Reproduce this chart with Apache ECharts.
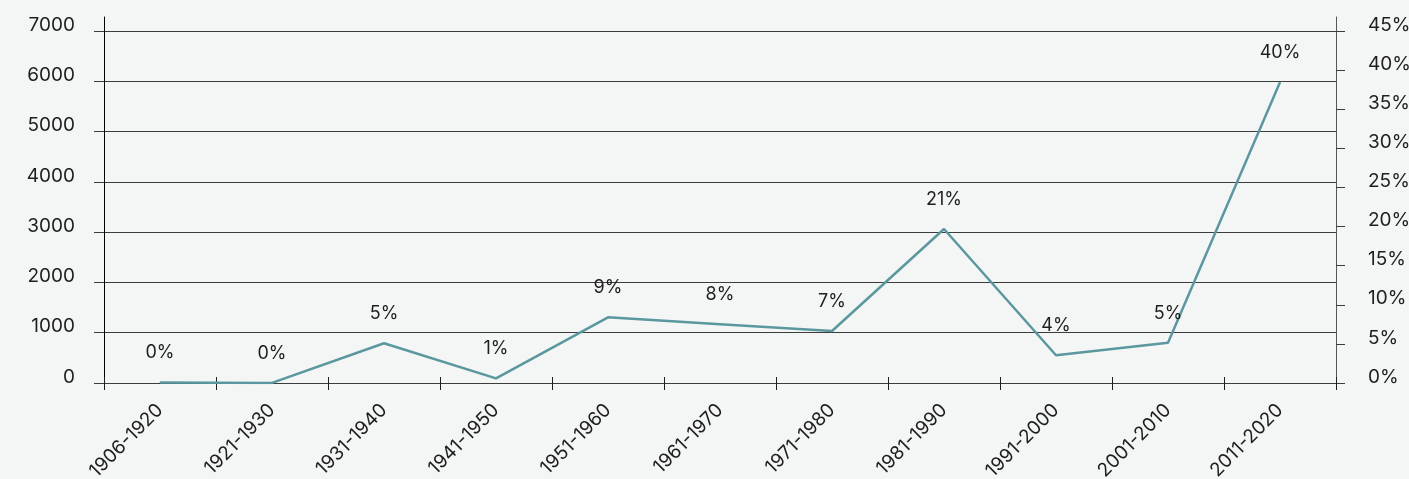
<!DOCTYPE html>
<html lang="en" style="height: 100%">
<head>
  <meta charset="utf-8">
</head>
<body style="height: 100%; margin: 0; background: #f4f6f5">
  <div id="container" style="width: 1409px; height: 479px"></div>

  <script type="text/javascript" src="https://fastly.jsdelivr.net/npm/echarts@6.0.0/dist/echarts.min.js"></script>
  <script type="text/javascript">
    // decades
    var decades = ['1906-1920', '1921-1930', '1931-1940', '1941-1950', '1951-1960', '1961-1970',
      '1971-1980', '1981-1990', '1991-2000', '2001-2010', '2011-2020'];
    // count per decade (left axis)
    var counts = [10, 2, 790, 93, 1306, 1169, 1034, 3062, 551, 800, 5980];
    // share of total, shown as point labels
    var shares = [0, 0, 5, 1, 9, 8, 7, 21, 4, 5, 40];

    var textColor = '#1e1e1e';
    var gridColor = '#3c3c3c';
    var lineColor = '#5b979f';
    var font = 'Inter, "Noto Sans", sans-serif';

    var dom = document.getElementById('container');
    var myChart = echarts.init(dom, null, { renderer: 'canvas' });

    var option = {
      backgroundColor: '#f4f6f5',
      textStyle: { fontFamily: font },
      grid: [
        { left: 104, right: 73, top: 31, bottom: 96, outerBoundsMode: 'none' },
        // only used to draw the taller vertical axis lines
        { left: 104, right: 73, top: 17, bottom: 96, outerBoundsMode: 'none' }
      ],
      xAxis: [
        {
          type: 'category',
          data: decades,
          gridIndex: 0,
          axisLine: { show: true, lineStyle: { color: gridColor, width: 1 } },
          axisTick: { show: true, length: 7, lineStyle: { color: textColor } },
          axisLabel: {
            rotate: 45,
            margin: 24,
            fontSize: 19,
            color: textColor,
            fontFamily: font
          }
        },
        {
          type: 'category',
          data: decades,
          gridIndex: 0,
          position: 'bottom',
          axisLine: { show: false },
          axisTick: { show: true, inside: true, length: 6, lineStyle: { color: textColor } },
          axisLabel: { show: false }
        },
        { type: 'category', data: decades, gridIndex: 1, show: false }
      ],
      yAxis: [
        {
          type: 'value',
          gridIndex: 0,
          min: 0,
          max: 7000,
          interval: 1000,
          axisLine: { show: false },
          axisTick: { show: true, length: 10, lineStyle: { color: gridColor } },
          splitLine: { show: true, lineStyle: { color: gridColor, width: 1 } },
          axisLabel: {
            margin: 29,
            fontSize: 19,
            color: textColor,
            fontFamily: font,
            verticalAlign: 'bottom',
            lineHeight: 12,
            formatter: function (v) { return String(v); }
          }
        },
        {
          type: 'value',
          gridIndex: 0,
          position: 'right',
          min: 0,
          max: 45,
          interval: 5,
          axisLine: { show: false },
          axisTick: { show: true, length: 9, lineStyle: { color: gridColor } },
          splitLine: { show: false },
          axisLabel: {
            margin: 32,
            fontSize: 19,
            color: textColor,
            fontFamily: font,
            verticalAlign: 'bottom',
            lineHeight: 12,
            formatter: '{value}%'
          }
        },
        {
          type: 'value',
          gridIndex: 1,
          position: 'left',
          axisLine: { show: true, lineStyle: { color: '#000', width: 1 } },
          axisTick: { show: false },
          axisLabel: { show: false },
          splitLine: { show: false }
        },
        {
          type: 'value',
          gridIndex: 1,
          position: 'right',
          axisLine: { show: true, lineStyle: { color: '#555', width: 1 } },
          axisTick: { show: false },
          axisLabel: { show: false },
          splitLine: { show: false }
        }
      ],
      series: [
        {
          type: 'line',
          xAxisIndex: 0,
          yAxisIndex: 0,
          data: counts,
          symbol: 'circle',
          symbolSize: 1,
          itemStyle: { color: lineColor },
          lineStyle: { color: lineColor, width: 2.5 },
          label: {
            show: true,
            position: 'top',
            distance: 20,
            fontSize: 18,
            color: textColor,
            fontFamily: font,
            formatter: function (p) {
              return shares[p.dataIndex] + '%';
            }
          },
          animation: false
        }
      ]
    };

    myChart.setOption(option);
    window.addEventListener('resize', myChart.resize);
  </script>
</body>
</html>
